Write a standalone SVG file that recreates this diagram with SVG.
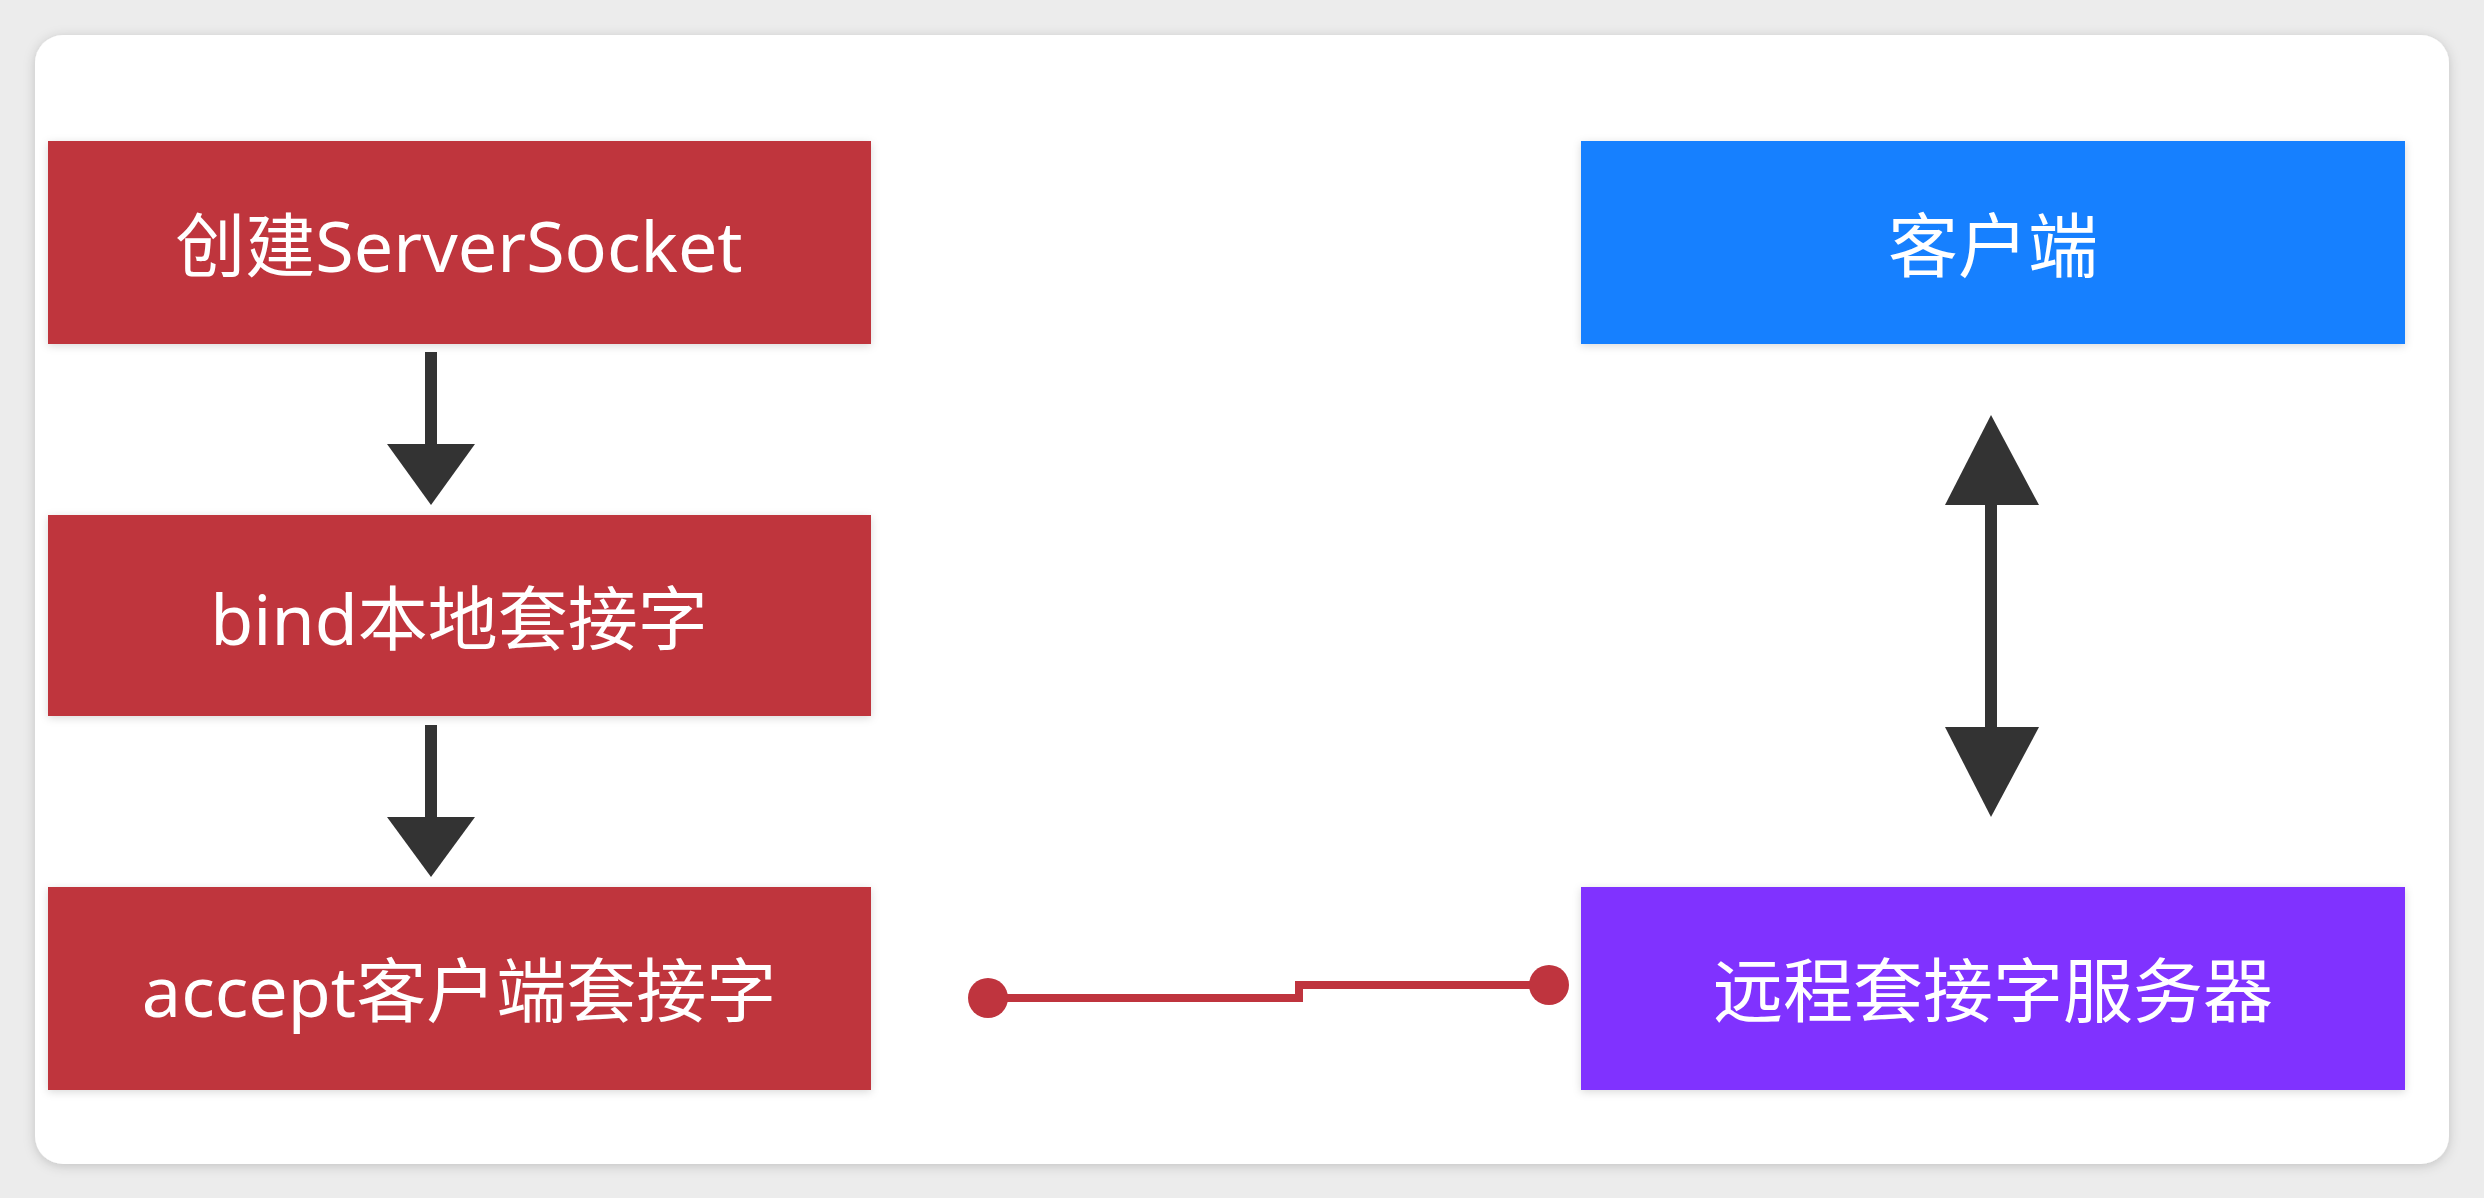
<svg xmlns="http://www.w3.org/2000/svg" width="2484" height="1198" viewBox="0 0 2484 1198">
<defs>
<filter id="sh" x="-5%" y="-5%" width="110%" height="110%"><feDropShadow dx="0" dy="2" stdDeviation="6" flood-color="#000" flood-opacity="0.18"/></filter>
<filter id="bs" x="-5%" y="-10%" width="110%" height="120%"><feDropShadow dx="0" dy="2" stdDeviation="4" flood-color="#000" flood-opacity="0.15"/></filter>
</defs>
<style>
.t{font-family:"Noto Sans","Noto Sans CJK SC",sans-serif;font-size:70px;fill:#fff;text-anchor:middle;dominant-baseline:central}
.red{fill:#BF343E}
.ar{fill:#333}
</style>
<rect width="2484" height="1198" fill="#ececec"/>
<rect x="35" y="35" width="2414" height="1129" rx="28" fill="#fff" filter="url(#sh)"/>
<g id="n1"><rect class="red" x="48" y="141" width="823" height="203" filter="url(#bs)"/><text class="t" x="459" y="245">创建ServerSocket</text></g>
<g id="n2"><rect class="red" x="48" y="515" width="823" height="201" filter="url(#bs)"/><text class="t" x="459" y="618">bind本地套接字</text></g>
<g id="n3"><rect class="red" x="48" y="887" width="823" height="203" filter="url(#bs)"/><text class="t" x="459" y="990">accept客户端套接字</text></g>
<g id="n4"><rect fill="#1580FF" x="1581" y="141" width="824" height="203" filter="url(#bs)"/><text class="t" x="1993" y="245">客户端</text></g>
<g id="n5"><rect fill="#8033FF" x="1581" y="887" width="824" height="203" filter="url(#bs)"/><text class="t" x="1993" y="990">远程套接字服务器</text></g>
<g id="connectors">
<rect class="ar" x="425" y="352" width="12" height="94"/><polygon class="ar" points="387,444 475,444 431,505"/>
<rect class="ar" x="425" y="725" width="12" height="94"/><polygon class="ar" points="387,817 475,817 431,877"/>
<rect class="ar" x="1985" y="500" width="12" height="230"/>
<polygon class="ar" points="1991,415 2039,505 1945,505"/>
<polygon class="ar" points="1991,817 2039,727 1945,727"/>
<polyline points="988,998 1299,998 1299,985 1549,985" fill="none" stroke="#BF343E" stroke-width="8"/>
<circle class="red" cx="988" cy="998" r="20"/><circle class="red" cx="1549" cy="985" r="20"/>
</g>
</svg>
